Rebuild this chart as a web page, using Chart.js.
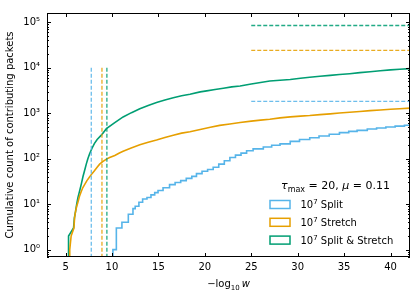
<!DOCTYPE html>
<html>
<head>
<meta charset="utf-8">
<script src="https://cdn.jsdelivr.net/npm/chart.js@4/dist/chart.umd.min.js"></script>
<style>
  html, body { margin: 0; padding: 0; background: #fff; }
  #wrap { width: 415px; height: 297px; position: relative; }
</style>
</head>
<body>
<div id="wrap"><canvas id="chart"></canvas></div>
<script>
const FONT = '"DejaVu Sans", sans-serif';
const COLORS = { split: '#56b4e9', stretch: '#e69f00', both: '#009e73' };
const DASH_ALPHA = 'dd';

// cumulative counts, x = -log10 w where the count is reached
// 0.5 = "no packets yet", sits below the axis floor and is clipped
const splitX = [10.1, 10.1, 10.47, 11.07, 11.76, 12.26, 12.5, 12.9, 13.3, 13.77, 14.2, 14.6, 14.96,
  15.5, 16.2, 16.8, 17.4, 18.0, 18.6, 19.1, 19.7, 20.3, 20.9, 21.5, 22.1, 22.7, 23.3, 23.9, 24.5,
  25.2, 26.3, 27.2, 28.1, 29.2, 30.2, 31.3, 32.3, 33.4, 34.5, 35.5, 36.4, 37.5, 38.5, 39.5, 40.5,
  41.5, 42.5];
const splitY = [0.5, 1, 3, 4, 6, 8, 9, 11, 13, 14, 16, 18, 20,
  23, 27, 30, 33, 37, 41, 47, 53, 58, 65, 76, 90, 106, 120, 133, 150,
  165, 181, 198, 212, 240, 265, 288, 315, 345, 375, 400, 420, 450, 475, 500, 520,
  545, 565];

const stretchX = [5.45, 5.45, 5.6, 5.9, 5.97, 6.08, 6.2, 6.33, 6.5, 6.69, 6.85, 7.05, 7.3, 7.6,
  7.85, 8.13, 8.4, 8.67, 9.0, 9.4, 9.75, 10.3, 10.8, 11.2, 12.0, 13.0, 13.9, 14.8, 15.7, 16.6,
  17.5, 18.4, 19.5, 20.6, 21.6, 22.7, 23.8, 25.0, 26.0, 27.0, 28.1, 29.2, 30.3, 31.3, 32.4,
  33.5, 34.5, 35.6, 36.7, 37.8, 38.9, 40.0, 41.0, 42.5];
const stretchY = [0.5, 1, 2, 3, 5, 7, 9, 11, 15, 19, 23, 27, 33, 40,
  47, 55, 65, 76, 86, 98, 106, 118, 134, 146, 170, 202, 230, 257, 292, 329,
  365, 390, 440, 490, 540, 580, 625, 670, 705, 740, 790, 830, 865, 890, 930,
  970, 1010, 1050, 1090, 1140, 1180, 1220, 1260, 1310];

const bothX = [5.32, 5.32, 5.86, 5.95, 6.08, 6.2, 6.33, 6.5, 6.7, 6.87, 7.05, 7.23, 7.4, 7.6,
  7.85, 8.1, 8.4, 8.85, 9.4, 10.3, 11.2, 12.1, 13.0, 13.9, 14.8, 15.7, 16.6, 17.5, 18.4, 19.5,
  20.2, 21.1, 22.0, 22.9, 23.8, 25.0, 26.0, 27.0, 28.1, 29.2, 30.3, 31.3, 32.4, 33.5, 34.5,
  35.6, 36.7, 37.8, 38.9, 40.0, 41.0, 42.5];
const bothY = [0.5, 2, 3, 5, 7, 10, 14, 19, 28, 40, 55, 76, 100, 130,
  170, 215, 265, 330, 457, 620, 830, 1030, 1250, 1480, 1730, 1950, 2200, 2420, 2620, 2950,
  3100, 3330, 3550, 3800, 3980, 4400, 4750, 5100, 5300, 5500, 5900, 6200, 6500, 6800, 7100,
  7400, 7800, 8200, 8600, 9000, 9300, 9700];

// dashed reference lines
const onsetX = { split: 7.77, stretch: 8.92, both: 9.45 };
const onsetTop = 1e4;
const totalY = { split: 1830, stretch: 24000, both: 85000 };
const totalFromX = 25;

const xTicks = [5, 10, 15, 20, 25, 30, 35, 40];
const yTicks = [1, 10, 100, 1000, 10000, 100000];
const X_MIN = 3, X_MAX = 42.1, Y_MIN = 0.69, Y_MAX = 1.6e5;

const SUP = { '0': '\u2070', '1': '\u00b9', '2': '\u00b2', '3': '\u00b3', '4': '\u2074', '5': '\u2075' };

// only the sparse Split curve shows visible stairs at this size
const series = [
  { key: 'split', name: 'Split', xs: splitX, ys: splitY, stepped: true },
  { key: 'stretch', name: 'Stretch', xs: stretchX, ys: stretchY, stepped: false },
  { key: 'both', name: 'Split & Stretch', xs: bothX, ys: bothY, stepped: false },
];

const toPoints = (xs, ys) => xs.map((x, i) => ({ x, y: ys[i] }));

function dashed(color, data) {
  return {
    data, borderColor: color + DASH_ALPHA, borderWidth: 1.3, borderDash: [4, 2],
    pointRadius: 0, fill: false,
  };
}

const datasets = [];
series.forEach(s => {
  datasets.push(dashed(COLORS[s.key], [{ x: onsetX[s.key], y: onsetTop }, { x: onsetX[s.key], y: 0.5 }]));
  datasets.push(dashed(COLORS[s.key], [{ x: totalFromX, y: totalY[s.key] }, { x: 43, y: totalY[s.key] }]));
});
series.forEach(s => {
  datasets.push({
    label: s.name, data: toPoints(s.xs, s.ys), borderColor: COLORS[s.key],
    borderWidth: 1.6, stepped: s.stepped, pointRadius: 0, fill: false,
  });
});

function drawRich(ctx, parts, x, y) {
  // parts: [text, size, dy, italic]
  let cx = x;
  parts.forEach(([t, size, dy, it]) => {
    ctx.font = (it ? 'italic ' : '') + size + 'px ' + FONT;
    ctx.fillText(t, cx, y + dy);
    cx += ctx.measureText(t).width;
  });
  return cx - x;
}
function richWidth(ctx, parts) {
  let w = 0;
  parts.forEach(([t, size, dy, it]) => {
    ctx.font = (it ? 'italic ' : '') + size + 'px ' + FONT;
    w += ctx.measureText(t).width;
  });
  return w;
}

const framePlugin = {
  id: 'frame',
  afterDraw(chart) {
    const { ctx, chartArea: a, scales: { x, y } } = chart;
    ctx.save();
    ctx.strokeStyle = '#000';
    ctx.lineWidth = 1;
    ctx.strokeRect(Math.round(a.left) + 0.5, Math.round(a.top) + 0.5,
      Math.round(a.right - a.left) - 1, Math.round(a.bottom - a.top) - 1);

    ctx.beginPath();
    xTicks.forEach(v => {
      const px = Math.round(x.getPixelForValue(v)) + 0.5;
      ctx.moveTo(px, a.bottom); ctx.lineTo(px, a.bottom - 4);
      ctx.moveTo(px, a.top); ctx.lineTo(px, a.top + 4);
    });
    for (let d = -1; d <= 5; d++) {
      for (let m = 1; m <= 9; m++) {
        const v = m * Math.pow(10, d);
        if (v < Y_MIN || v > Y_MAX) continue;
        const len = m === 1 ? 4 : 2;
        const py = Math.round(y.getPixelForValue(v)) + 0.5;
        ctx.moveTo(a.left, py); ctx.lineTo(a.left + len, py);
        ctx.moveTo(a.right, py); ctx.lineTo(a.right - len, py);
      }
    }
    ctx.stroke();

    ctx.fillStyle = '#000';
    ctx.textBaseline = 'alphabetic';
    ctx.textAlign = 'left';

    // x title: -log10 w
    const xt = [['\u2212log', 10, 0, false], ['10', 7, 2.5, false], ['\u2009', 10, 0, false], ['w', 10, 0, true]];
    const xw = richWidth(ctx, xt);
    drawRich(ctx, xt, (a.left + a.right) / 2 - xw / 2, 287);

    // y title
    ctx.save();
    ctx.translate(13, (a.top + a.bottom) / 2);
    ctx.rotate(-Math.PI / 2);
    ctx.textAlign = 'center';
    ctx.font = '10px ' + FONT;
    ctx.fillText('Cumulative count of contributing packets', 0, 0);
    ctx.restore();

    // legend
    const lt = [['\u03c4', 11, 0, true], ['max', 8, 2.5, false], [' = 20, ', 11, 0, false],
      ['\u03bc', 11, 0, true], [' = 0.11', 11, 0, false]];
    const lw = richWidth(ctx, lt);
    drawRich(ctx, lt, 335.5 - lw / 2, 189);

    series.forEach((s, i) => {
      const cy = 204.5 + i * 17.8;
      ctx.strokeStyle = COLORS[s.key];
      ctx.lineWidth = 1.5;
      ctx.strokeRect(270, cy - 4, 20, 8);
      ctx.fillStyle = '#000';
      drawRich(ctx, [['10', 10, 0, false], ['7', 7, -4, false], [' ' + s.name, 10, 0, false]], 300.5, cy + 3.6);
    });
    ctx.restore();
  },
};

new Chart(document.getElementById('chart'), {
  type: 'line',
  data: { datasets },
  options: {
    responsive: true,
    maintainAspectRatio: false,
    animation: false,
    layout: { padding: { top: 3, right: 5, left: 0, bottom: 0 } },
    plugins: { legend: { display: false }, tooltip: { enabled: false } },
    scales: {
      x: {
        type: 'linear', min: X_MIN, max: X_MAX,
        afterBuildTicks: s => { s.ticks = xTicks.map(v => ({ value: v })); },
        afterFit: s => { s.height = 40; },
        grid: { display: false, drawTicks: false }, border: { display: false },
        ticks: { color: '#000', font: { family: FONT, size: 10 }, padding: 4, maxRotation: 0, autoSkip: false },
      },
      y: {
        type: 'logarithmic', min: Y_MIN, max: Y_MAX,
        afterBuildTicks: s => { s.ticks = yTicks.map(v => ({ value: v })); },
        afterFit: s => { s.width = 47; },
        grid: { display: false, drawTicks: false }, border: { display: false },
        ticks: {
          color: '#000', font: { family: FONT, size: 10 }, padding: 7, autoSkip: false,
          callback: v => '10' + SUP[String(Math.round(Math.log10(v)))],
        },
      },
    },
  },
  plugins: [framePlugin],
});
</script>
</body>
</html>
